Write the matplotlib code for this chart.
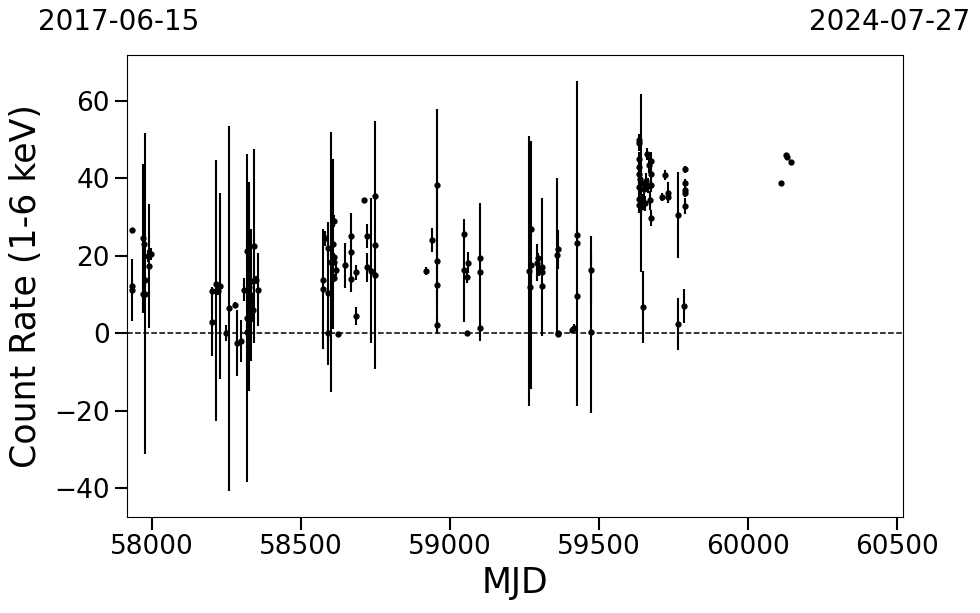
import matplotlib
matplotlib.use('Agg')
import matplotlib.pyplot as plt

# light curve values (MJD, count rate, 1-sigma error)
mjd = [57934, 57936, 57936, 57972, 57973, 57972, 57977, 57977, 57992, 57989, 57997,
       58204, 58204, 58216, 58216, 58230, 58223, 58250, 58260, 58281, 58287, 58301, 58310,
       58321, 58321, 58321, 58328, 58332, 58332, 58344, 58341, 58351, 58358,
       58575, 58575, 58580, 58591, 58591, 58591, 58601, 58607, 58611, 58611, 58611, 58611,
       58618, 58626, 58648, 58670, 58670, 58670, 58685, 58685, 58712, 58723, 58723,
       58735, 58749, 58749, 58749,
       58920, 58941, 58956, 58956, 58956, 58956,
       59047, 59047, 59056, 59062, 59058, 59102, 59102, 59102,
       59264, 59268, 59272, 59272, 59293, 59296, 59298, 59310, 59310, 59310,
       59358, 59363, 59362, 59364, 59411, 59416, 59426, 59426, 59426, 59473, 59473,
       59635, 59634, 59660, 59635, 59673, 59668, 59635, 59635, 59673, 59638, 59657,
       59673, 59635, 59651, 59663, 59635, 59670, 59648, 59635, 59654, 59641, 59673,
       59640, 59647,
       59722, 59711, 59730, 59731, 59764, 59764, 59784, 59787, 59787, 59787, 59789, 59787,
       60110, 60128, 60130, 60144]
rate = [26.6, 12.2, 11.2, 24.5, 23.0, 10.1, 10.2, 13.7, 17.4, 20.0, 20.5,
        3.0, 10.9, 11.0, 12.6, 12.3, 10.9, 0.0, 6.4, 7.3, -2.5, -2.0, 11.2,
        21.2, 0.4, 3.9, 12.0, 13.5, 9.9, 22.5, 6.0, 13.7, 11.2,
        11.4, 13.7, 24.5, 21.9, 0.0, 10.3, 18.4, 23.0, 29.0, 19.8, 18.5, 14.3,
        16.4, -0.3, 17.6, 25.1, 20.9, 14.0, 15.7, 4.5, 34.4, 25.1, 17.0,
        16.1, 22.8, 35.4, 15.0,
        16.1, 24.1, 38.4, 18.6, 12.5, 2.1,
        25.6, 16.3, 14.4, 18.2, 0.0, 19.3, 15.7, 1.3,
        16.1, 11.9, 17.6, 26.8, 18.2, 19.3, 16.3, 17.2, 15.7, 12.1,
        20.1, 21.7, 0.0, -0.3, 0.85, 1.3, 23.2, 25.3, 9.5, 16.3, 0.2,
        50.0, 49.1, 46.2, 44.9, 44.4, 43.4, 42.8, 41.1, 41.1, 39.8, 39.4,
        38.4, 37.7, 37.3, 38.1, 34.7, 34.3, 33.9, 33.0, 33.5, 32.6, 29.7,
        38.8, 6.7,
        40.8, 35.2, 36.3, 35.2, 30.5, 2.4, 7.0, 42.3, 38.9, 37.1, 36.3, 32.9,
        38.9, 46.0, 45.6, 44.1]
err = [0.5, 0.8, 8.0, 19.2, 2.0, 4.5, 41.4, 1.0, 16.0, 1.5, 1.5,
       8.8, 1.0, 33.8, 1.0, 24.0, 1.0, 2.0, 47.2, 0.8, 8.5, 5.5, 3.0,
       1.5, 2.0, 42.4, 27.0, 2.0, 17.0, 25.0, 3.0, 1.0, 9.4,
       15.4, 1.0, 2.0, 2.0, 3.0, 18.4, 33.6, 22.0, 1.5, 1.0, 1.0, 1.0,
       1.5, 0.5, 5.8, 1.5, 10.2, 1.5, 2.0, 2.3, 0.5, 3.0, 3.7,
       18.7, 32.0, 1.0, 1.0,
       1.0, 3.1, 19.6, 18.8, 5.0, 2.3,
       1.0, 13.3, 1.5, 2.7, 0.5, 1.0, 17.8, 1.0,
       34.9, 1.0, 32.0, 1.0, 4.8, 1.5, 1.5, 17.8, 1.0, 1.0,
       20.0, 5.0, 0.5, 0.5, 0.8, 1.0, 42.0, 1.0, 1.0, 8.7, 20.8,
       1.5, 2.0, 1.5, 2.0, 2.5, 2.0, 2.0, 2.0, 2.0, 2.0, 2.0,
       2.0, 2.0, 2.0, 2.0, 2.0, 2.5, 2.0, 2.0, 2.0, 2.0, 2.0,
       23.1, 9.3,
       1.3, 1.0, 2.7, 1.0, 11.2, 6.8, 4.4, 1.0, 1.0, 1.0, 1.0, 2.0,
       0.5, 0.5, 0.5, 0.5]

xlim = (57919, 60518)
start_date = '2017-06-15'
end_date = '2024-07-27'

fig = plt.figure(figsize=(9.8, 6.13), dpi=100)
ax = fig.add_axes([0.130, 0.157, 0.791, 0.753])

ax.errorbar(mjd, rate, yerr=err, fmt='o', color='k', ms=3.5,
            elinewidth=1.5, capsize=0)
ax.axhline(0, color='k', ls='--', lw=1.1)

ax.set_xlim(*xlim)
ax.set_ylim(-47.4, 71.8)
ax.set_xticks([58000, 58500, 59000, 59500, 60000, 60500])
ax.set_yticks([-40, -20, 0, 20, 40, 60])
ax.tick_params(axis='both', labelsize=19, length=9, width=1.5)
ax.set_xlabel('MJD', fontsize=25)
ax.set_ylabel('Count Rate (1-6 keV)', fontsize=25, labelpad=8)

fig.text(0.121, 0.964, start_date, fontsize=20, ha='center', va='center')
fig.text(0.908, 0.964, end_date, fontsize=20, ha='center', va='center')

fig.savefig('out.png', dpi=100)
